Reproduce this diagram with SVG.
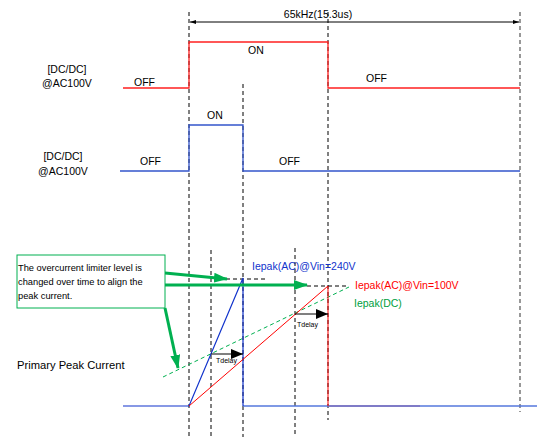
<svg xmlns="http://www.w3.org/2000/svg" width="537" height="439" viewBox="0 0 537 439">
<style>
text{font-family:"Liberation Sans",Arial,sans-serif;font-size:10.5px;fill:#000}
text.small{font-size:7px}
text.call{font-size:9.3px}
text.ppc{font-size:11.2px}
.vd{stroke:#000;stroke-width:1;stroke-dasharray:4,3;fill:none}
.vg{stroke:#777;stroke-width:1.5;stroke-dasharray:4,3;fill:none}
.red{stroke:#FF2020;stroke-width:1.3;fill:none}
.blue{stroke:#3355CC;stroke-width:1.3;fill:none}
.g{stroke:#00B050;stroke-width:3;fill:none}
.blk{stroke:#000;stroke-width:1;fill:none}
</style>
<defs>
<marker id="ahs" markerWidth="6" markerHeight="4" refX="6" refY="2" orient="auto-start-reverse" markerUnits="userSpaceOnUse"><path d="M0,0 L6,2 L0,4 z" fill="#000"/></marker>
<marker id="ahT" markerWidth="12" markerHeight="10" refX="12" refY="5" orient="auto" markerUnits="userSpaceOnUse"><path d="M0,0 L12,5 L0,10 z" fill="#000"/></marker>
<marker id="ahG" markerWidth="14" markerHeight="10" refX="13" refY="5" orient="auto" markerUnits="userSpaceOnUse"><path d="M0,0 L14,5 L0,10 z" fill="#00B050"/></marker>
</defs>
<g id="connectors">
<line class="vd" x1="189" y1="12" x2="189" y2="437"/>
<line class="vd" x1="243" y1="84" x2="243" y2="437"/>
<line class="vd" x1="328" y1="12" x2="328" y2="420"/>
<line class="vg" x1="520" y1="12" x2="520" y2="412"/>
<line class="vd" x1="211" y1="250" x2="211" y2="437"/>
<line class="vd" x1="295" y1="248" x2="295" y2="437"/>
<line class="blk" x1="190" y1="22" x2="519" y2="22" marker-start="url(#ahs)" marker-end="url(#ahs)"/>
<polyline class="red" points="123,88 189,88 189,42 328,42 328,88 520,88"/>
<polyline class="blue" points="120,171 189,171 189,125 243,125 243,171 520,171"/>
<line class="vd" x1="226" y1="279" x2="266" y2="279"/>
<line class="vd" x1="307" y1="286" x2="349" y2="286"/>
<line x1="163" y1="377" x2="349" y2="287" stroke="#00B050" stroke-width="1" stroke-dasharray="4,3"/>
<polyline points="328,406 420,406" stroke="#FF6060" stroke-width="1.3" fill="none"/>
<polyline points="243,406 537,406" stroke="#5577DD" stroke-width="1.3" fill="none"/>
<polyline points="123,406 189,406 243,278 243,406" stroke="#1133CC" stroke-width="1.2" fill="none"/>
<polyline points="189,406 328,286 328,406" stroke="#FF0000" stroke-width="1" fill="none"/>
<line class="blk" x1="211" y1="354" x2="243" y2="354" marker-end="url(#ahT)"/>
<line class="blk" x1="295" y1="314" x2="328" y2="314" marker-end="url(#ahT)"/>
<line class="g" x1="165" y1="273" x2="227" y2="279" marker-end="url(#ahG)"/>
<line class="g" x1="165" y1="285" x2="307" y2="285" marker-end="url(#ahG)"/>
<line class="g" x1="165" y1="308" x2="178" y2="368" marker-end="url(#ahG)"/>
</g>
<g id="freq"><text x="318" y="18" text-anchor="middle">65kHz(15.3us)</text></g>
<g id="sig1">
<text x="67" y="73" text-anchor="middle">[DC/DC]</text>
<text x="67" y="87" text-anchor="middle">@AC100V</text>
<text x="134" y="86">OFF</text>
<text x="248" y="54">ON</text>
<text x="366" y="82">OFF</text>
</g>
<g id="sig2">
<text x="63" y="160" text-anchor="middle">[DC/DC]</text>
<text x="63" y="175" text-anchor="middle">@AC100V</text>
<text x="140" y="165">OFF</text>
<text x="207" y="119">ON</text>
<text x="279" y="165">OFF</text>
</g>
<g id="callout">
<rect x="17" y="255" width="148" height="53" fill="#fff" stroke="#00B050" stroke-width="1"/>
<text class="call" x="18" y="271">The overcurrent limiter level is</text>
<text class="call" x="18" y="285">changed over time to align the</text>
<text class="call" x="18" y="299">peak current.</text>
</g>
<g id="labels">
<text class="ppc" x="17" y="369">Primary Peak Current</text>
<text x="252" y="270" style="fill:#1133CC">Iepak(AC)@Vin=240V</text>
<text x="355" y="289" style="fill:#FF0000">Iepak(AC)@Vin=100V</text>
<text x="354" y="307" style="fill:#00A040">Iepak(DC)</text>
<text class="small" x="216" y="363">Tdelay</text>
<text class="small" x="297" y="327">Tdelay</text>
</g>
</svg>
